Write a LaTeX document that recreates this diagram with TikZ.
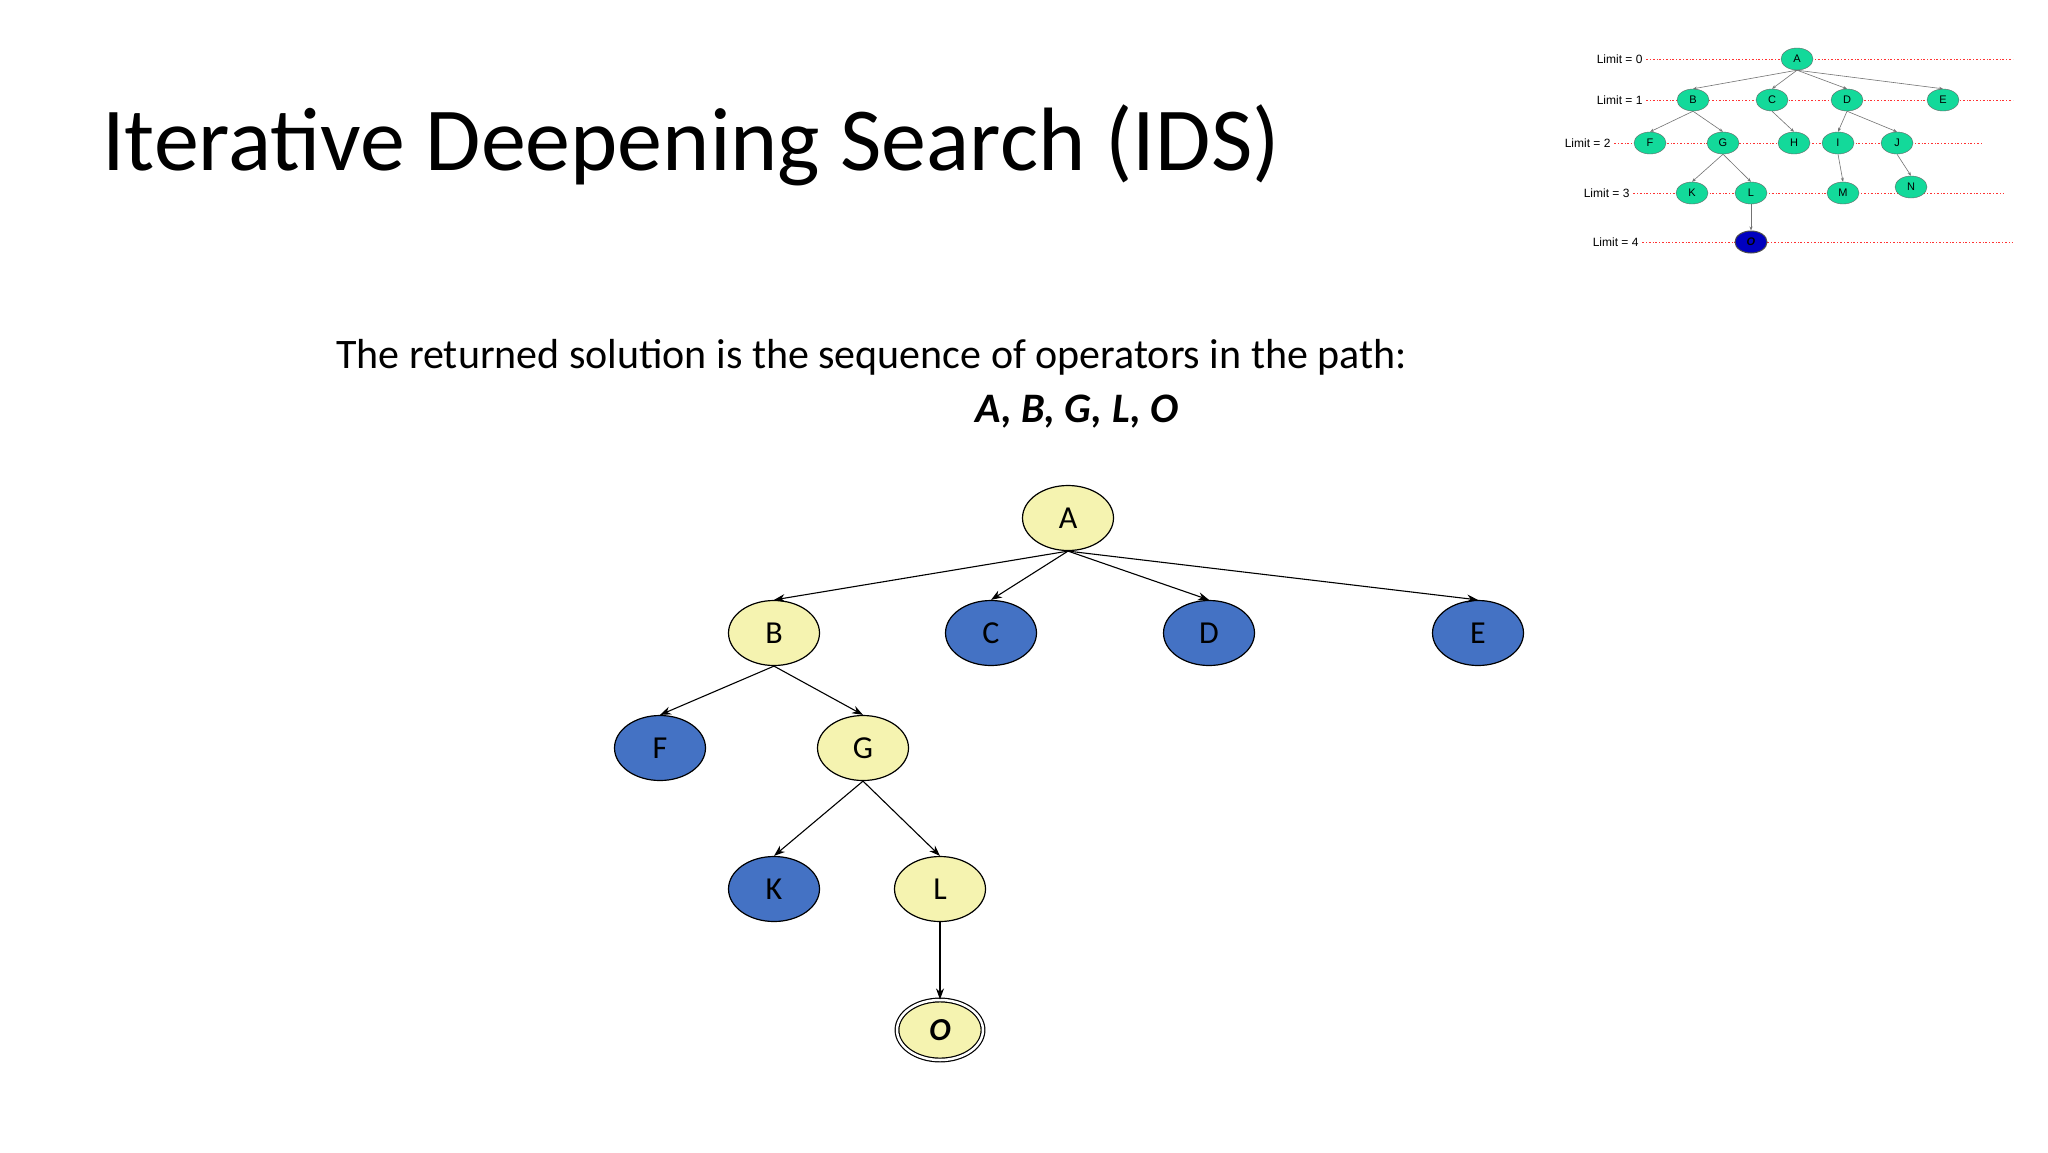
\documentclass[tikz,border=0pt]{standalone}
\usepackage{fontspec}
\setmainfont{Carlito}
\newfontfamily\arialf{Liberation Sans}
\usetikzlibrary{shapes.geometric,arrows.meta}
\definecolor{ylw}{HTML}{F5F3B0}
\definecolor{blu}{HTML}{4472C4}
\definecolor{grn}{HTML}{13D99A}
\begin{document}
\begin{tikzpicture}[x=1pt,y=-1pt,
  tnode/.style={ellipse,draw=black,line width=1.2pt,minimum width=91pt,minimum height=65pt,inner sep=0pt,font=\fontsize{32}{32}\selectfont},
  yl/.style={tnode,fill=ylw},
  bl/.style={tnode,fill=blu},
  edge/.style={-{Stealth[length=11pt,width=8pt]},line width=1.1pt},
  snode/.style={ellipse,draw=black!60,fill=grn,minimum width=32pt,minimum height=22pt,inner sep=0pt,font=\arialf\fontsize{11}{11}\selectfont},
  sedge/.style={-{Stealth[length=4pt,width=3pt]},draw=black!55,line width=0.6pt},
  lim/.style={anchor=east,font=\arialf\fontsize{12}{12}\selectfont},
  dline/.style={red!80,dash pattern=on 2pt off 2pt on 0.6pt off 2pt,line width=0.7pt}]
\useasboundingbox[fill=white] (0,0) rectangle (2048,1152);
\node[anchor=base west,inner sep=0pt,font=\fontsize{90}{90}\selectfont] (title) at (102,170) {Iterative Deepening Search (IDS)};
\node[anchor=base west,inner sep=0pt,font=\fontsize{42}{42}\selectfont] (sol) at (336,368) {The returned solution is the sequence of operators in the path:};
\node[anchor=base,inner sep=0pt,font=\fontsize{42}{42}\selectfont\bfseries\itshape] (path) at (1077,422) {A, B, G, L, O};
% main tree
\node[yl] (A) at (1068,518) {A};
\node[yl] (B) at (774,633) {B};
\node[bl] (C) at (991,633) {C};
\node[bl] (D) at (1209,633) {D};
\node[bl] (E) at (1478,633) {E};
\node[bl] (F) at (660,748) {F};
\node[yl] (G) at (863,748) {G};
\node[bl] (K) at (774,889) {K};
\node[yl] (L) at (940,889) {L};
\node[yl,double=white,double distance=2.5pt,minimum width=86pt,minimum height=60pt,font=\fontsize{32}{32}\selectfont\bfseries\itshape] (O) at (940,1030) {O};
\foreach \c in {B,C,D,E} \draw[edge] (A.south) -- (\c.north);
\foreach \c in {F,G} \draw[edge] (B.south) -- (\c.north);
\foreach \c in {K,L} \draw[edge] (G.south) -- (\c.north);
\draw[edge] (L.south) -- (O.north);
% inset
\node[lim] (l0) at (1646,59) {Limit = 0};
\node[lim] (l1) at (1646,100) {Limit = 1};
\node[lim] (l2) at (1614,143) {Limit = 2};
\node[lim] (l3) at (1633,193) {Limit = 3};
\node[lim] (l4) at (1642,242) {Limit = 4};
\coordinate (r0) at (2013,59); \coordinate (r1) at (2013,100);
\coordinate (r2) at (1983,143); \coordinate (r3) at (2003,193);
\coordinate (r4) at (2012,242);
\foreach \i in {0,...,4} \draw[dline] (l\i.east) -- (r\i);
\node[snode] (a) at (1797,59) {A};
\node[snode] (b) at (1693,100) {B};
\node[snode] (c) at (1772,100) {C};
\node[snode] (d) at (1847,100) {D};
\node[snode] (e) at (1943,100) {E};
\node[snode] (f) at (1650,143) {F};
\node[snode] (g) at (1723,143) {G};
\node[snode] (h) at (1794,143) {H};
\node[snode] (i) at (1838,143) {I};
\node[snode] (j) at (1897,143) {J};
\node[snode] (k) at (1692,193) {K};
\node[snode] (l) at (1751,193) {L};
\node[snode] (m) at (1843,193) {M};
\node[snode] (n) at (1911,187) {N};
\node[snode,fill=blue!75!black,draw=black!70,line width=1pt,font=\arialf\fontsize{11}{11}\selectfont\bfseries\itshape] (o) at (1751,242) {O};
\foreach \c in {b,c,d,e} \draw[sedge] (a.south) -- (\c.north);
\foreach \c in {f,g} \draw[sedge] (b.south) -- (\c.north);
\draw[sedge] (c.south) -- (h.north);
\foreach \c in {i,j} \draw[sedge] (d.south) -- (\c.north);
\foreach \c in {k,l} \draw[sedge] (g.south) -- (\c.north);
\draw[sedge] (i.south) -- (m.north);
\draw[sedge] (j.south) -- (n.north);
\draw[sedge] (l.south) -- (o.north);
\end{tikzpicture}
\end{document}
